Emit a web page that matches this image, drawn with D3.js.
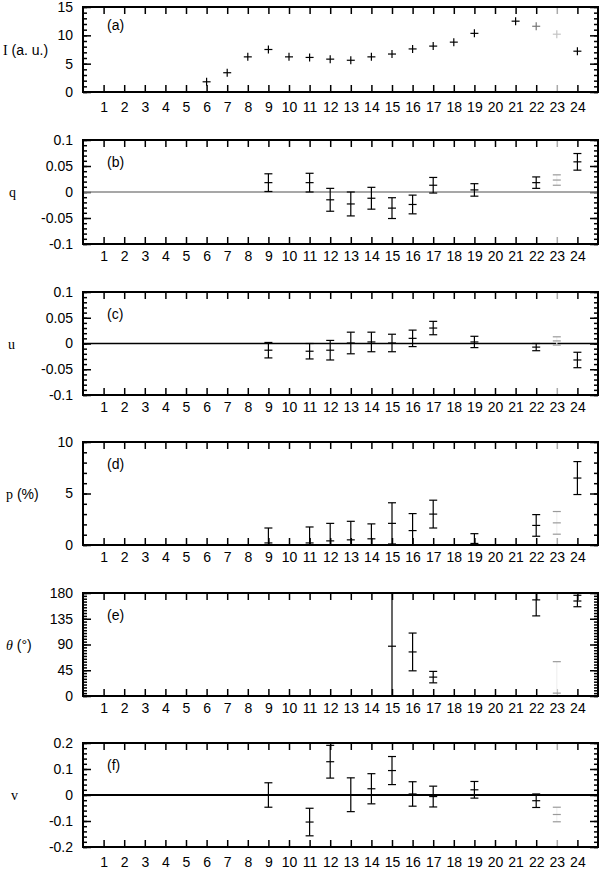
<!DOCTYPE html>
<html>
<head>
<meta charset="utf-8">
<script src="https://cdn.jsdelivr.net/npm/d3@7"></script>
<style>
body { margin: 0; background: #fff; }
</style>
</head>
<body>
<script>
// column numbers on the x axis
var columns = d3.range(1, 25);

// (a) intensity
var iX   = [6, 7, 8, 9, 10, 11, 12, 13, 14, 15, 16, 17, 18, 19, 21, 22, 23, 24];
var iVal = [1.8, 3.4, 6.2, 7.5, 6.2, 6.1, 5.8, 5.6, 6.2, 6.7, 7.6, 8.1, 8.8, 10.35, 12.5, 11.6, 10.2, 7.2];

// (b) q
var qX   = [9, 11, 12, 13, 14, 15, 16, 17, 19, 22, 23, 24];
var qVal = [0.018, 0.018, -0.015, -0.023, -0.012, -0.031, -0.024, 0.013, 0.004, 0.018, 0.023, 0.058];
var qErr = [0.017, 0.018, 0.022, 0.023, 0.021, 0.020, 0.018, 0.015, 0.012, 0.011, 0.010, 0.016];

// (c) u
var uX   = [9, 11, 12, 13, 14, 15, 16, 17, 19, 22, 23, 24];
var uVal = [-0.013, -0.015, -0.013, 0.001, 0.003, 0.001, 0.010, 0.030, 0.003, -0.007, 0.005, -0.032];
var uErr = [0.015, 0.015, 0.019, 0.021, 0.019, 0.017, 0.016, 0.013, 0.011, 0.007, 0.008, 0.015];

// (d) p (%)
var pX   = [9, 11, 12, 13, 14, 15, 16, 17, 19, 22, 23, 24];
var pVal = [0.2, 0.2, 0.4, 0.5, 0.6, 2.1, 1.4, 3.0, 0.15, 1.9, 2.15, 6.5];
var pErr = [1.45, 1.55, 1.7, 1.8, 1.45, 2.0, 1.65, 1.35, 0.95, 1.05, 1.1, 1.6];

// (e) theta (deg)
var tX   = [15, 16, 17, 22, 23, 24];
var tVal = [87, 77, 33, 168, 5, 166];
var tErr = [95, 33, 10, 28, 55, 10];

// (f) v
var vX   = [9, 11, 12, 13, 14, 15, 16, 17, 19, 22, 23];
var vVal = [0.0, -0.104, 0.128, 0.001, 0.024, 0.094, 0.004, -0.006, 0.02, -0.022, -0.075];
var vErr = [0.047, 0.053, 0.063, 0.065, 0.058, 0.054, 0.047, 0.040, 0.032, 0.026, 0.028];

// tick labels
var iTicks = ["0", "5", "10", "15"];
var qTicks = ["-0.1", "-0.05", "0", "0.05", "0.1"];
var uTicks = ["-0.1", "-0.05", "0", "0.05", "0.1"];
var pTicks = ["0", "5", "10"];
var tTicks = ["0", "45", "90", "135", "180"];
var vTicks = ["-0.2", "-0.1", "0", "0.1", "0.2"];

var sans = "'Liberation Sans', Arial, Helvetica, sans-serif";
var serif = "'Liberation Serif', 'Times New Roman', serif";

var svg = d3.select("body").append("svg")
    .attr("width", 600)
    .attr("height", 869);

var x = d3.scaleLinear()
    .domain([0, 25])
    .range([83, 598]);

var panels = [
  {id: "a", top: 7, bottom: 92, domain: [0, 15], ticks: iTicks, minor: 1, pad: 10,
   title: ["I", " (a. u.)"], titleX: 3, xs: iX, vals: iVal, errs: null, zero: null},
  {id: "b", top: 140, bottom: 244, domain: [-0.1, 0.1], ticks: qTicks, minor: 0.01, pad: 7,
   title: ["q", ""], titleX: 9, xs: qX, vals: qVal, errs: qErr, zero: {c: "#8a8a8a", w: 1.5}},
  {id: "c", top: 292, bottom: 395, domain: [-0.1, 0.1], ticks: uTicks, minor: 0.01, pad: 7,
   title: ["u", ""], titleX: 8, xs: uX, vals: uVal, errs: uErr, zero: {c: "#000", w: 1.6}},
  {id: "d", top: 442, bottom: 545, domain: [0, 10], ticks: pTicks, minor: 1, pad: 7,
   title: ["p", " (%)"], titleX: 6, xs: pX, vals: pVal, errs: pErr, zero: null},
  {id: "e", top: 593, bottom: 696, domain: [0, 180], ticks: tTicks, minor: 5, pad: 7,
   title: ["\u03b8", " (\u00b0)"], titleX: 6, xs: tX, vals: tVal, errs: tErr, zero: null},
  {id: "f", top: 743, bottom: 847, domain: [-0.2, 0.2], ticks: vTicks, minor: 0.02, pad: 10,
   title: ["v", ""], titleX: 11, xs: vX, vals: vVal, errs: vErr, zero: {c: "#000", w: 2}}
];

// colour of a point: column 23 is faded in every panel
function markColor(p, c) {
  if (c === 23) return p.id === "a" ? "#c4c4c4" : "#9a9a9a";
  if (c === 22 && p.id === "a") return "#777";
  return "#000";
}

function drawPanel(p) {
  var y = d3.scaleLinear().domain(p.domain).range([p.bottom, p.top]);
  var g = svg.append("g");
  var w = x.range()[1] - x.range()[0];

  g.append("clipPath").attr("id", "clip-" + p.id)
    .append("rect")
    .attr("x", x.range()[0]).attr("y", p.top)
    .attr("width", w).attr("height", p.bottom - p.top);

  var major = p.ticks.map(Number);
  var minor = d3.range(p.domain[0], p.domain[1] + p.minor / 2, p.minor)
    .map(function(d) { return +d.toFixed(4); });

  // minor y ticks both sides
  g.append("g").attr("transform", "translate(" + x.range()[0] + ",0)")
    .call(d3.axisLeft(y).tickValues(minor).tickSize(-4).tickFormat(""));
  g.append("g").attr("transform", "translate(" + x.range()[1] + ",0)")
    .call(d3.axisRight(y).tickValues(minor).tickSize(-4).tickFormat(""));

  // major y ticks
  g.append("g").attr("transform", "translate(" + x.range()[0] + ",0)")
    .call(d3.axisLeft(y).tickValues(major).tickSize(-8).tickPadding(10)
      .tickFormat(function(d, i) { return p.ticks[i]; }));
  g.append("g").attr("transform", "translate(" + x.range()[1] + ",0)")
    .call(d3.axisRight(y).tickValues(major).tickSize(-8).tickFormat(""));

  // x ticks top and bottom
  g.append("g").attr("class", "xaxis").attr("transform", "translate(0," + p.bottom + ")")
    .call(d3.axisBottom(x).tickValues(columns).tickSize(-7).tickPadding(p.pad)
      .tickFormat(d3.format("d")));
  g.append("g").attr("class", "xaxis").attr("transform", "translate(0," + p.top + ")")
    .call(d3.axisTop(x).tickValues(columns).tickSize(-7).tickFormat(""));

  g.selectAll(".domain").remove();
  g.selectAll(".tick line").attr("stroke", "#000").attr("stroke-width", 1.5);
  g.selectAll(".xaxis .tick").filter(function(d) { return d === 23; })
    .select("line").attr("stroke", "#aaa");
  g.selectAll(".tick text")
    .attr("font-size", 14)
    .attr("font-family", sans)
    .attr("fill", "#000");

  // zero line
  if (p.zero) {
    g.append("line")
      .attr("x1", x.range()[0]).attr("x2", x.range()[1])
      .attr("y1", y(0)).attr("y2", y(0))
      .attr("stroke", p.zero.c).attr("stroke-width", p.zero.w);
  }

  var marks = g.append("g").attr("clip-path", "url(#clip-" + p.id + ")");
  var pts = p.xs.map(function(c, i) {
    return {c: c, v: p.vals[i], e: p.errs ? p.errs[i] : 0};
  });

  if (!p.errs) {
    // plain crosses
    pts.forEach(function(d) {
      var cx = x(d.c), cy = y(d.v), col = markColor(p, d.c);
      marks.append("line").attr("x1", cx - 4).attr("x2", cx + 4)
        .attr("y1", cy).attr("y2", cy).attr("stroke", col).attr("stroke-width", 1.2);
      marks.append("line").attr("x1", cx).attr("x2", cx)
        .attr("y1", cy - 4).attr("y2", cy + 4).attr("stroke", col).attr("stroke-width", 1.2);
    });
  } else {
    pts.forEach(function(d) {
      var cx = x(d.c), col = markColor(p, d.c);
      var y0 = y(d.v - d.e), y1 = y(d.v + d.e), cy = y(d.v);
      marks.append("line").attr("x1", cx).attr("x2", cx)
        .attr("y1", y0).attr("y2", y1)
        .attr("stroke", d.c === 23 ? "#f0f0f0" : col).attr("stroke-width", 1.2);
      [y0, y1, cy].forEach(function(yy) {
        marks.append("line").attr("x1", cx - 4).attr("x2", cx + 4)
          .attr("y1", yy).attr("y2", yy)
          .attr("stroke", col).attr("stroke-width", 1.2);
      });
    });
  }

  // frame
  g.append("rect")
    .attr("x", x.range()[0]).attr("y", p.top)
    .attr("width", w).attr("height", p.bottom - p.top)
    .attr("fill", "none").attr("stroke", "#000").attr("stroke-width", 2);

  // panel label
  g.append("text")
    .attr("x", 107).attr("y", p.top + (p.id === "a" ? 23 : 27))
    .attr("font-size", 14).attr("font-family", sans)
    .text("(" + p.id + ")");

  // y title
  var t = g.append("text")
    .attr("x", p.titleX).attr("y", (p.top + p.bottom) / 2 + 5)
    .attr("font-size", 14);
  t.append("tspan").attr("font-family", serif)
    .attr("font-style", p.id === "e" ? "italic" : "normal")
    .text(p.title[0]);
  if (p.title[1]) t.append("tspan").attr("font-family", sans).text(p.title[1]);
}

panels.forEach(drawPanel);
</script>
</body>
</html>
